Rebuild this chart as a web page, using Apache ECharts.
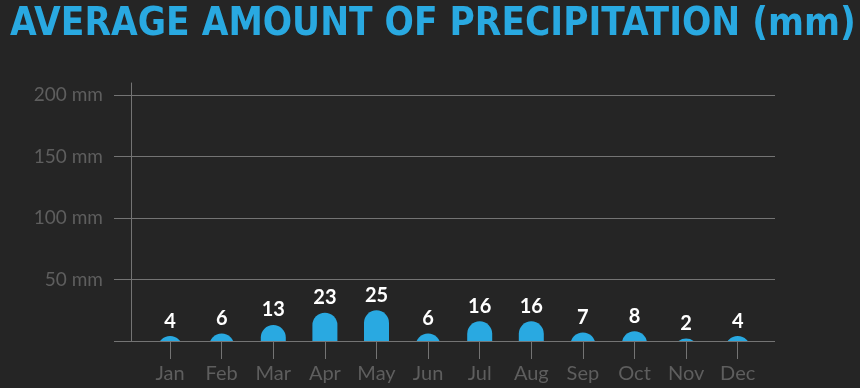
<!DOCTYPE html>
<html><head><meta charset="utf-8">
<script src="https://cdn.jsdelivr.net/npm/echarts@6/dist/echarts.min.js"></script>
<style>html,body{margin:0;padding:0;background:#252525}#c{width:860px;height:388px}</style>
</head><body><div id="c"></div>
<script>
const titleText = 'AVERAGE AMOUNT OF PRECIPITATION (mm)';
const months = ['Jan','Feb','Mar','Apr','May','Jun','Jul','Aug','Sep','Oct','Nov','Dec'];
const precipitation = [4, 6, 13, 23, 25, 6, 16, 16, 7, 8, 2, 4];
const yTicks = [0, 50, 100, 150, 200];
const unit = ' mm';

const titleFamily = '"DejaVu Sans Condensed", "DejaVu Sans", sans-serif';
const cv = document.createElement('canvas').getContext('2d');
cv.font = 'bold 44px ' + titleFamily;
const titleSize = 44 * 846 / cv.measureText(titleText).width;

const chart = echarts.init(document.getElementById('c'), null, {renderer: 'canvas'});
const grey = '#747474';
const textGrey = '#5e5e5e';
const blue = '#29a9e1';
const font = 'Lato, "Open Sans", sans-serif';
const barW = 25;

chart.setOption({
  backgroundColor: '#252525',
  animation: false,
  title: {
    text: titleText, left: 5, top: 1,
    textStyle: {color: blue, fontSize: titleSize, fontWeight: 'bold', fontFamily: titleFamily}
  },
  grid: [
    {left: 131, right: 85, top: 95, bottom: 47},
    {left: 131, right: 85, top: 83, bottom: 47},
    {left: 144.3, right: 96.5, top: 95, bottom: 47}
  ],
  xAxis: [
    {gridIndex: 0, type: 'value', show: false, min: 0, max: 1},
    {gridIndex: 1, type: 'value', show: false, min: 0, max: 1},
    {gridIndex: 2, type: 'category', data: months,
     axisLine: {show: false},
     axisTick: {show: true, alignWithLabel: true, length: 18, lineStyle: {color: grey, width: 1}},
     axisLabel: {color: textGrey, fontSize: 20, fontFamily: font, margin: 23}}
  ],
  yAxis: [
    {gridIndex: 0, type: 'value', min: yTicks[0], max: yTicks[yTicks.length - 1], interval: 50,
     axisLine: {show: false},
     axisTick: {show: true, length: 17, lineStyle: {color: grey, width: 1}},
     splitLine: {show: true, lineStyle: {color: grey, width: 1}},
     axisLabel: {color: textGrey, fontSize: 19, fontFamily: font, margin: 28,
       formatter: v => v === 0 ? '' : v + unit}},
    {gridIndex: 1, type: 'value', min: 0, max: 1,
     axisLine: {show: true, lineStyle: {color: grey, width: 1}},
     axisTick: {show: false}, axisLabel: {show: false}, splitLine: {show: false}},
    {gridIndex: 2, type: 'value', min: yTicks[0], max: yTicks[yTicks.length - 1], show: false}
  ],
  series: [{
    type: 'custom', xAxisIndex: 2, yAxisIndex: 2,
    data: precipitation.map((v, i) => [i, v]),
    renderItem: function (params, api) {
      const top = api.coord([api.value(0), api.value(1)]);
      const base = api.coord([api.value(0), 0]);
      const cs = params.coordSys;
      const r = barW / 2;
      return {
        type: 'group',
        children: [{
          type: 'rect',
          shape: {x: top[0] - r, y: top[1], width: barW, height: base[1] - top[1] + r, r: [r, r, 0, 0]},
          style: {fill: blue},
          clipPath: {type: 'rect', shape: {x: cs.x, y: cs.y, width: cs.width, height: base[1] - cs.y}}
        }, {
          type: 'text',
          x: top[0], y: top[1] - 5,
          style: {text: String(api.value(1)), fill: '#ffffff', font: 'bold 20px ' + font,
                  textAlign: 'center', textVerticalAlign: 'bottom'}
        }]
      };
    }
  }]
});
</script></body></html>
